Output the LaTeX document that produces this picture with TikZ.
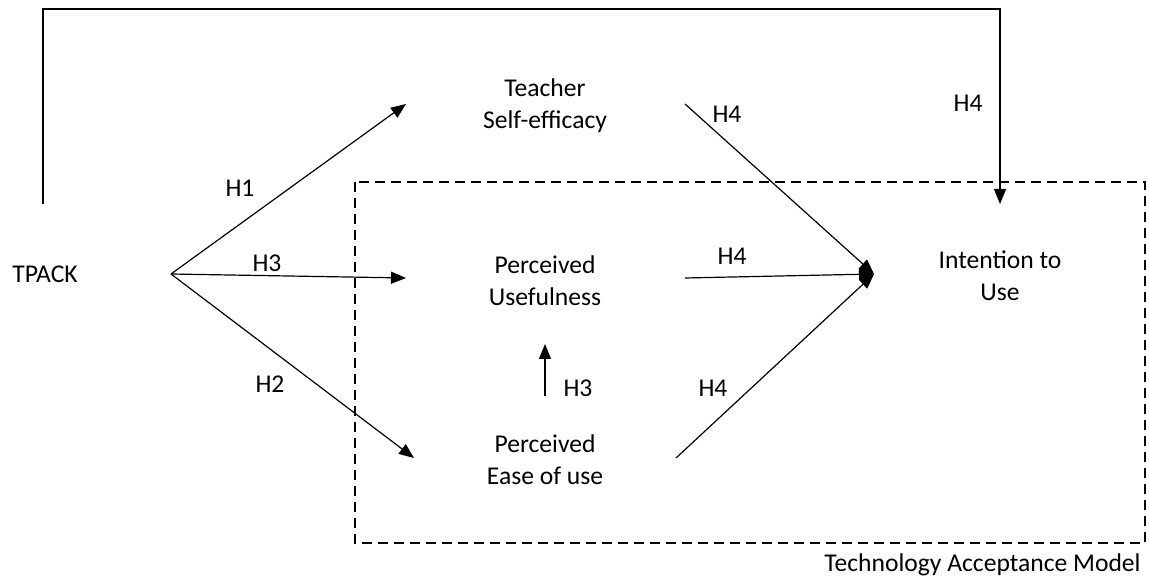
\documentclass[tikz,border=0pt]{standalone}
\usepackage{fontspec}
\setmainfont{Carlito}
\usetikzlibrary{arrows.meta}

\begin{document}
\begin{tikzpicture}[x=0.5pt, y=-0.5pt,
    every node/.style={font=\fontsize{12.8}{16}\selectfont, align=center, inner sep=0pt},
    link/.style={line width=0.6pt, -{Triangle[length=7.5pt,width=6pt]}},
    plain/.style={line width=0.6pt}]
    \useasboundingbox (0,0) rectangle (1149,576);

    % Technology Acceptance Model box
    \draw[line width=0.9pt, dash pattern=on 5pt off 3pt] (355,182) rectangle (1145,543);
    \node[anchor=east] (tam) at (1141,565) {Technology Acceptance Model};

    % Constructs
    \node (tpack) at (45,274) {TPACK};
    \node (tse) at (545,106) {Teacher\\Self-efficacy};
    \node (pu) at (545,281) {Perceived\\Usefulness};
    \node (peou) at (545,460) {Perceived\\Ease of use};
    \node (itu) at (1000,276) {Intention to\\Use};

    % Arrow end points
    \coordinate (fan) at (171,274);
    \coordinate (h1end) at (406,104);
    \coordinate (h3end) at (406,278);
    \coordinate (h2end) at (414,458);
    \coordinate (peoutop) at (545,396);
    \coordinate (putop) at (545,344);
    \coordinate (tseout) at (685,104);
    \coordinate (puout) at (685,278);
    \coordinate (peouout) at (676,458);
    \coordinate (tip) at (874,274);
    \coordinate (loopa) at (43,204);
    \coordinate (loopb) at (43,9);
    \coordinate (loopc) at (1000,9);
    \coordinate (loopd) at (1000,204);

    % TPACK paths
    \draw[link] (fan) -- (h1end);
    \draw[link] (fan) -- (h3end);
    \draw[link] (fan) -- (h2end);
    \draw[link] (peoutop) -- (putop);
    \draw[link] (loopa) -- (loopb) -- (loopc) -- (loopd);

    % Paths to intention
    \draw[link] (tseout) -- (tip);
    \draw[link] (puout) -- (tip);
    \draw[link] (peouout) -- (tip);

    % Hypothesis labels
    \node (h1) at (240,188) {H1};
    \node (h3a) at (267,263) {H3};
    \node (h2) at (270,384) {H2};
    \node (h3b) at (578,388) {H3};
    \node (h4a) at (727,114) {H4};
    \node (h4b) at (732,256) {H4};
    \node (h4c) at (713,388) {H4};
    \node (h4d) at (968,103) {H4};
\end{tikzpicture}
\end{document}
